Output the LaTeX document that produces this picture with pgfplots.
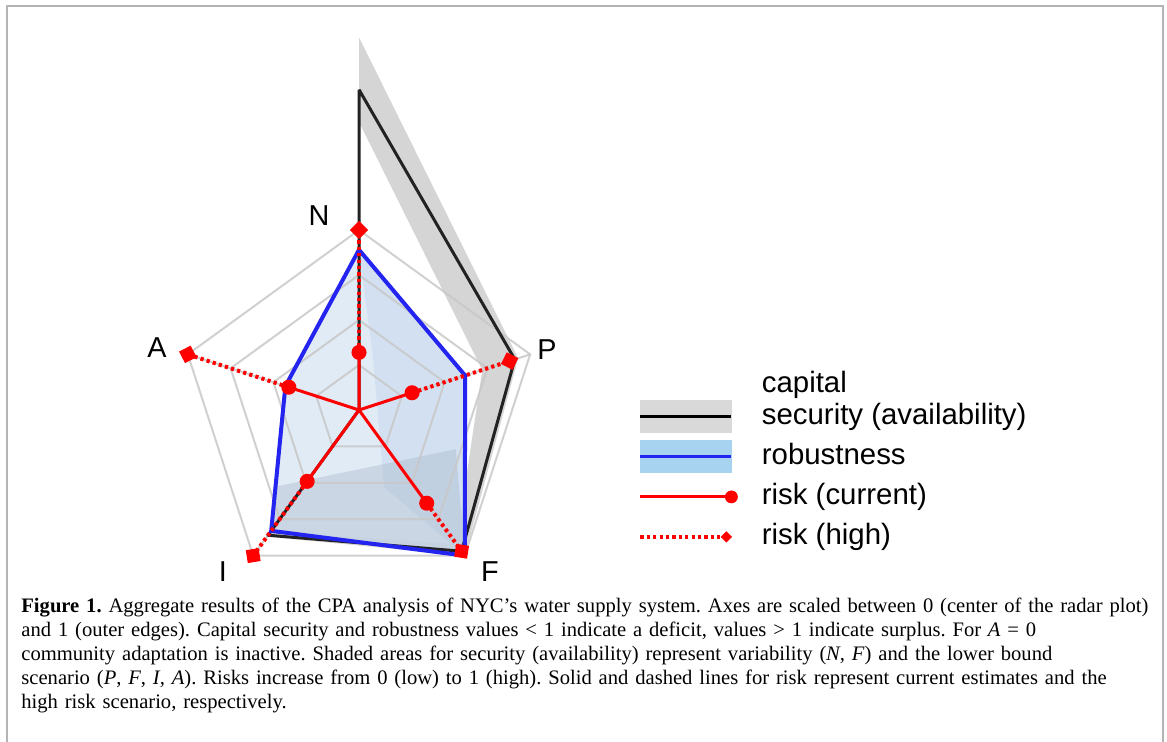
\documentclass[border=0pt]{standalone}
\usepackage{pgfplots}
\pgfplotsset{compat=1.18}
\usepackage{pgfplotstable}
\usepackage{fontspec}
\setmainfont{Liberation Serif}
\newfontfamily\arial{Liberation Sans}

\definecolor{gridgray}{HTML}{C8C8C8}
\definecolor{bandgray}{HTML}{D5D5D5}
\definecolor{secline}{HTML}{222222}
\definecolor{robblue}{HTML}{2424F0}
\definecolor{robfill}{HTML}{DCE7F4}
\definecolor{robmid}{HTML}{BCD1EA}
\definecolor{robshade}{HTML}{AEBDCF}
\definecolor{legblue}{HTML}{A7D3F1}
\definecolor{legband}{HTML}{D9D9D9}
\definecolor{riskred}{HTML}{FF0000}
\definecolor{framegray}{HTML}{B4B4B4}

% spoke angles: N 90, P 18, F -54, I -126, A 162 (polar, radius 1 = outer edge)
\pgfplotstableread{
a r
90 1.78
18 0.91
-54 0.97
-126 0.86
162 0
90 1.78
}\security

% shaded security band: upper bound loop, then lower bound loop in reverse
\pgfplotstableread{
a r
90 2.07
18 0.93
-54 1.00
-126 0.87
162 0
90 2.07
90 1.60
162 0
-126 0.84
-54 0.92
18 0.72
90 1.60
}\securityband

\pgfplotstableread{
a r
90 0.89
18 0.62
-54 1.00
-126 0.83
162 0.43
90 0.89
}\robust

\pgfplotstableread{
a r
-126 0.83
-54 1.00
-22 0.58
-138 0.64
-126 0.83
}\robustlow

\pgfplotstableread{
a r
90 0.89
18 0.62
-54 1.00
-72 0.45
75 0.30
90 0.89
}\robustright

\begin{document}
\begin{tikzpicture}[x=1pt,y=1pt]
\useasboundingbox (0,0) rectangle (583.5,-371);
\draw[framegray, line width=1pt] (3.5,-371) -- (3.5,-3) -- (581.5,-3) -- (581.5,-371);

\begin{axis}[
  at={(71.5pt,-295pt)}, anchor=south west,
  x=90pt, y=90pt,
  xmin=-1.2, xmax=1.2, ymin=-1.0, ymax=2.2,
  enlargelimits=false, hide axis, clip=false,
  legend cell align=left,
  legend style={
    at={(1.1458,0.3264)}, anchor=north west,
    draw=none, fill=none, inner sep=0pt,
    row sep=5.5pt, column sep=14.5pt,
    font=\arial\fontsize{14.7}{16}\selectfont,
    nodes={inner sep=0pt, text height=11pt, text depth=3.5pt},
  },
]
% filled areas
\addplot[data cs=polar, draw=none, fill=bandgray, forget plot] table[x=a,y=r] {\securityband};
\addplot[data cs=polar, draw=none, fill=robfill, fill opacity=0.85, forget plot] table[x=a,y=r] {\robust};
\addplot[data cs=polar, draw=none, fill=robmid, fill opacity=0.38, forget plot] table[x=a,y=r] {\robustright};
\addplot[data cs=polar, draw=none, fill=robshade, fill opacity=0.45, forget plot] table[x=a,y=r] {\robustlow};

% radar grid
\pgfplotsinvokeforeach{0.25,0.5,0.75,1.0}{
  \addplot[data cs=polar, gridgray, line width=1pt, opacity=0.85, forget plot]
    coordinates {(90,#1) (18,#1) (-54,#1) (-126,#1) (162,#1) (90,#1)};
}
\addplot[data cs=polar, gridgray, line width=1pt, opacity=0.85, forget plot]
  coordinates {(90,1) (90,0) (18,1) (18,0) (-54,1) (-54,0) (-126,1) (-126,0) (162,1)};

% capital security and robustness
\addplot[data cs=polar, secline, line width=1.5pt, line join=round, forget plot] table[x=a,y=r] {\security};
\addplot[data cs=polar, robblue, line width=2pt, line join=miter, forget plot] table[x=a,y=r] {\robust};

% risk, high scenario (dotted, from current value outwards)
\addplot[data cs=polar, riskred, line width=2pt, dash pattern=on 1.6pt off 1.6pt, mark=square*, mark size=2.25pt, mark indices={2}, mark options={solid, rotate=45}, forget plot]
  coordinates {(90,0.32) (90,1.00)};
\addplot[data cs=polar, riskred, line width=2pt, dash pattern=on 1.6pt off 1.6pt, mark=square*, mark size=2.25pt, mark indices={2}, mark options={solid, rotate=-27}, forget plot]
  coordinates {(18,0.31) (18,0.88)};
\addplot[data cs=polar, riskred, line width=2pt, dash pattern=on 1.6pt off 1.6pt, mark=square*, mark size=2.25pt, mark indices={2}, mark options={solid, rotate=-99}, forget plot]
  coordinates {(-54,0.64) (-54,0.97)};
\addplot[data cs=polar, riskred, line width=2pt, dash pattern=on 1.6pt off 1.6pt, mark=square*, mark size=2.25pt, mark indices={2}, mark options={solid, rotate=-171}, forget plot]
  coordinates {(-126,0.49) (-126,1.00)};
\addplot[data cs=polar, riskred, line width=2pt, dash pattern=on 1.6pt off 1.6pt, mark=square*, mark size=2.25pt, mark indices={2}, mark options={solid, rotate=117}, forget plot]
  coordinates {(162,0.41) (162,1.00)};

% risk, current estimates (spokes from the centre)
\addplot[data cs=polar, riskred, line width=1.5pt, mark=*, mark size=3pt, mark indices={2,4,6,8,10}, forget plot]
  coordinates {(90,0) (90,0.32) (18,0) (18,0.31) (-54,0) (-54,0.64) (-126,0) (-126,0.49) (162,0) (162,0.41)};

% axis names
\node[font=\arial\fontsize{14.4}{16}\selectfont] at (axis cs:-0.222,1.078) {N};
\node[font=\arial\fontsize{14.4}{16}\selectfont] at (axis cs:1.044,0.333) {P};
\node[font=\arial\fontsize{14.4}{16}\selectfont] at (axis cs:-1.122,0.344) {A};
\node[font=\arial\fontsize{14.4}{16}\selectfont] at (axis cs:-0.756,-0.9) {I};
\node[font=\arial\fontsize{14.4}{16}\selectfont] at (axis cs:0.728,-0.9) {F};

% legend
\addlegendimage{legend image code/.code={
  \fill[legband, overlay] (0pt,-8pt) rectangle (45.5pt,8pt);
  \draw[black, line width=1.5pt] (0pt,0pt) -- (45.5pt,0pt);}}
\addlegendentry{\begin{tabular}[b]{@{}l@{}}capital\\security (availability)\end{tabular}}
\addlegendimage{legend image code/.code={
  \fill[legblue, overlay] (0pt,-8pt) rectangle (45.5pt,8pt);
  \draw[robblue, line width=1.5pt] (0pt,0pt) -- (45.5pt,0pt);}}
\addlegendentry{robustness}
\addlegendimage{legend image code/.code={
  \draw[riskred, line width=1.5pt] (0pt,0pt) -- (45.5pt,0pt);
  \fill[riskred, overlay] (45.5pt,0pt) circle (3pt);}}
\addlegendentry{risk (current)}
\addlegendimage{legend image code/.code={
  \draw[riskred, line width=2pt, dash pattern=on 1.6pt off 1.6pt] (0pt,0pt) -- (43pt,0pt);
  \fill[riskred, overlay] (45.5pt,0pt) -- (43pt,2.5pt) -- (40.5pt,0pt) -- (43pt,-2.5pt) -- cycle;}}
\addlegendentry{risk (high)}
\end{axis}

% caption
\node[anchor=north west, inner sep=0pt, text width=575pt, align=left,
      font=\fontsize{10.3}{12}\selectfont] at (10.5pt,-299pt) {\frenchspacing
\textbf{Figure 1.} Aggregate results of the CPA analysis of NYC’s water supply system. Axes are scaled between 0 (center of the radar plot)\\
and 1 (outer edges). Capital security and robustness values < 1 indicate a deficit, values > 1 indicate surplus. For \textit{A}~=~0\\
community adaptation is inactive. Shaded areas for security (availability) represent variability (\textit{N}, \textit{F}) and the lower bound\\
scenario (\textit{P}, \textit{F}, \textit{I}, \textit{A}). Risks increase from 0 (low) to 1 (high). Solid and dashed lines for risk represent current estimates and the\\
high risk scenario, respectively.};
\end{tikzpicture}
\end{document}
